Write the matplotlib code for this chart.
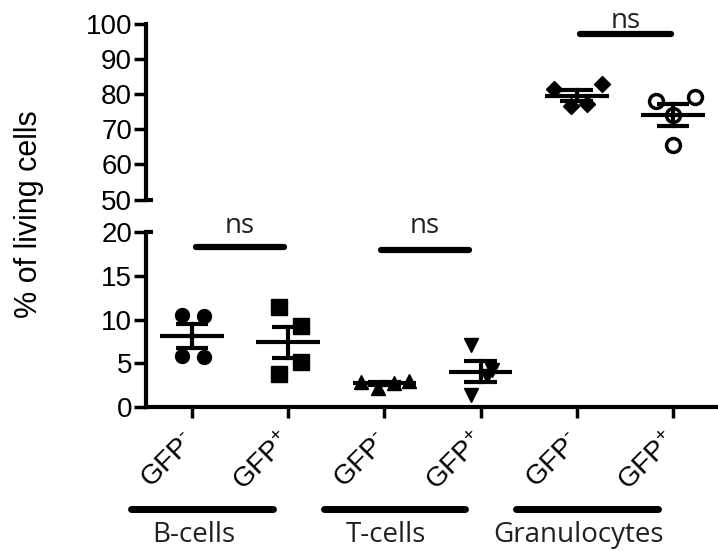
import numpy as np
import matplotlib
matplotlib.use("Agg")
import matplotlib.pyplot as plt
import matplotlib.transforms as mtransforms

plt.rcParams['font.family'] = ['Liberation Sans', 'DejaVu Sans']
plt.rcParams['mathtext.default'] = 'regular'

# data (% of living cells)
tick_labels = ['GFP$^{\u2010}$', 'GFP$^{+}$'] * 3
groups = ['B-cells', 'T-cells', 'Granulocytes']

b_neg = [10.5, 10.4, 5.8, 5.7]
b_pos = [11.4, 9.3, 5.1, 3.8]
t_neg = [2.9, 2.2, 2.8, 3.0]
t_pos = [7.1, 1.4, 4.2, 3.5]
g_neg = [81.4, 76.7, 77.2, 82.8]
g_pos = [78.1, 79.0, 73.9, 65.4]

# horizontal scatter of the points
b_neg_jit = [-0.10, 0.13, -0.10, 0.13]
b_pos_jit = [-0.10, 0.13, 0.13, -0.10]
t_neg_jit = [-0.24, -0.07, 0.10, 0.26]
t_pos_jit = [-0.10, -0.10, 0.12, 0.07]
g_neg_jit = [-0.24, -0.06, 0.11, 0.26]
g_pos_jit = [-0.18, 0.23, 0.0, 0.0]

series = [
    (1, b_neg, b_neg_jit, dict(marker='o', ms=10, mfc='k', mec='k')),
    (2, b_pos, b_pos_jit, dict(marker='s', ms=11, mfc='k', mec='k')),
    (3, t_neg, t_neg_jit, dict(marker='^', ms=10, mfc='k', mec='k')),
    (4, t_pos, t_pos_jit, dict(marker='v', ms=10, mfc='k', mec='k')),
    (5, g_neg, g_neg_jit, dict(marker='D', ms=8, mfc='k', mec='k')),
    (6, g_pos, g_pos_jit, dict(marker='o', ms=10, mfc='white', mec='k', mew=2.5)),
]

fig = plt.figure(figsize=(7.18, 5.55), dpi=100)
left = 146 / 718
width = (718 - 146) / 718
ax_top = fig.add_axes([left, (555 - 199.5) / 555, width, 176 / 555])
ax_bot = fig.add_axes([left, (555 - 407) / 555, width, 175 / 555])

xlim = (0.522, 6.468)
for ax in (ax_top, ax_bot):
    ax.set_xlim(*xlim)
    ax.spines['right'].set_visible(False)
    ax.spines['top'].set_visible(False)
    ax.spines['left'].set_linewidth(3)
    ax.spines['bottom'].set_linewidth(3)
    ax.tick_params(axis='y', length=9, width=2.5, labelsize=20, pad=1)
    ax.patch.set_alpha(0)

ax_top.set_ylim(50, 100)
ax_top.set_yticks(np.arange(50, 101, 10))
ax_top.spines['bottom'].set_visible(False)
ax_top.tick_params(axis='x', bottom=False, labelbottom=False)

ax_bot.set_ylim(0, 20)
ax_bot.set_yticks(np.arange(0, 21, 5))
ax_bot.set_xticks(range(1, 7))
ax_bot.set_xticklabels(tick_labels, rotation=45, ha='right', va='center',
                       rotation_mode='anchor', fontsize=20)
ax_bot.tick_params(axis='x', length=8, width=2.5, pad=14)

# small stubs at the axis break
for ax, yv in ((ax_top, 50), (ax_bot, 20)):
    tr = mtransforms.blended_transform_factory(ax.transAxes, ax.transData)
    ax.plot([0, 0.013], [yv, yv], color='k', lw=3, transform=tr,
            clip_on=False, solid_capstyle='butt')

for pos, vals, jit, style in series:
    ax = ax_top if pos >= 5 else ax_bot
    vals = np.array(vals)
    xs = pos + np.array(jit)
    m = vals.mean()
    sem = vals.std(ddof=1) / np.sqrt(len(vals))
    ax.plot(xs, vals, ls='none', zorder=3, clip_on=False, **style)
    ax.plot([pos - 0.33, pos + 0.33], [m, m], color='k', lw=3, zorder=4,
            solid_capstyle='butt')
    ax.plot([pos, pos], [m - sem, m + sem], color='k', lw=3, zorder=4)
    for e in (m - sem, m + sem):
        ax.plot([pos - 0.17, pos + 0.17], [e, e], color='k', lw=3, zorder=4,
                solid_capstyle='butt')

# significance bars
ns_font = dict(family=['Open Sans', 'DejaVu Sans'], fontsize=20, color='#231f20')
sig = [(ax_bot, 1.04, 1.96, 18.3, 19.9), (ax_bot, 2.96, 3.88, 18.0, 19.9),
       (ax_top, 5.03, 5.98, 96.9, 98.8)]
for ax, x0, x1, yl, yt in sig:
    ax.plot([x0, x1], [yl, yl], color='k', lw=4.5, solid_capstyle='round',
            clip_on=False)
    ax.text((x0 + x1) / 2, yt, 'ns', ha='center', va='baseline', **ns_font)

# group lines and labels under the tick labels
trg = mtransforms.blended_transform_factory(ax_bot.transData, fig.transFigure)
for i, name in enumerate(groups):
    c = 1 + 2 * i
    ax_bot.plot([c - 0.63, c + 0.84], [1 - 509 / 555] * 2, color='k', lw=5,
                solid_capstyle='round', transform=trg, clip_on=False)
    ax_bot.text(c + 0.02, 1 - 535 / 555, name, ha='center', va='center',
                transform=trg, **ns_font)

fig.text(0.04, 1 - 214 / 555, '% of living cells', rotation=90,
         ha='center', va='center', fontsize=22)

fig.savefig('out.png', dpi=100)
